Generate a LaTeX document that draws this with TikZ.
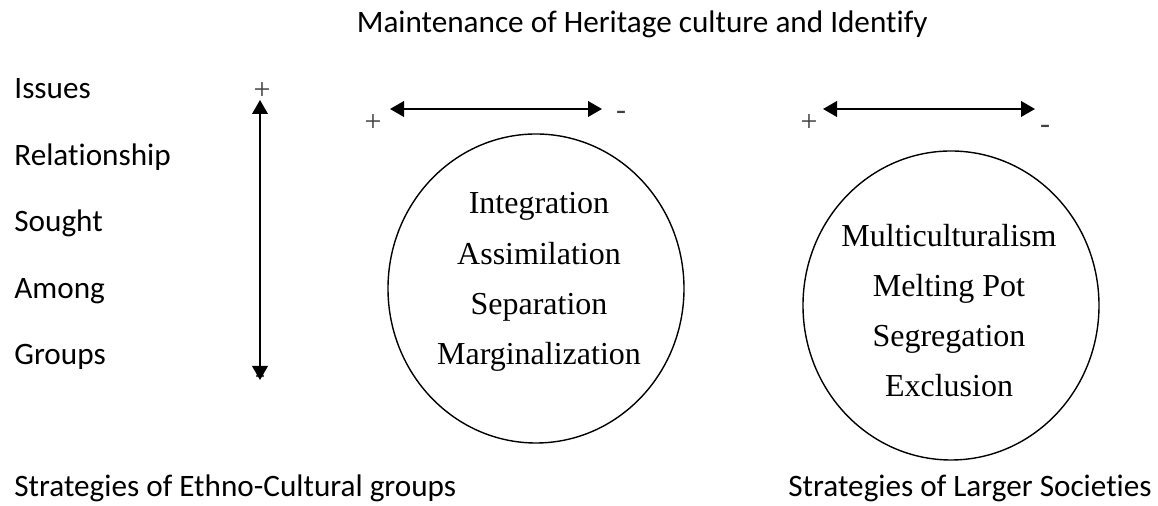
\documentclass[tikz,border=0pt]{standalone}
\usepackage{fontspec}
\setmainfont{Carlito}[Ligatures=CommonOff]
\newfontfamily\romfont{Liberation Serif}
\usetikzlibrary{arrows.meta}

\begin{document}
\begin{tikzpicture}[x=0.5pt, y=-0.5pt,
		lbl/.style={inner sep=0pt, font=\fontsize{15.6}{18}\selectfont},
		inner/.style={inner sep=0pt, anchor=base, font=\romfont\fontsize{16}{19}\selectfont},
		sgn/.style={inner sep=0pt, text=black!75, font=\romfont\fontsize{15}{18}\selectfont},
		dbl/.style={{Triangle[length=7pt, width=7.8pt]}-{Triangle[length=7pt, width=7.8pt]}, line width=1pt},
		ring/.style={line width=0.7pt}]
	\useasboundingbox (0, 0) rectangle (1158, 506);
	% labels
	\node[lbl, anchor=base east] (title) at (928, 33) {Maintenance of Heritage culture and Identify};
	\foreach \t [count=\i] in {Issues, Relationship, Sought, Among, Groups}
		\node[lbl, anchor=base west] (side\i) at (14, 99 + 66.5 * \i - 66.5) {\t};
	\node[lbl, anchor=base west] (ethno) at (14, 497) {Strategies of Ethno-Cultural groups};
	\node[lbl, anchor=base east] (larger) at (1152, 497) {Strategies of Larger Societies};
	% vertical arrow
	\node[sgn] (vplus) at (262, 91) {+};
	\node[sgn] (vminus) at (260, 379) {-};
	\coordinate (vtop) at (260, 100);
	\coordinate (vbot) at (260, 380);
	\draw[dbl] (vtop) -- (vbot);
	% horizontal arrows
	\coordinate (a1) at (390, 109);
	\coordinate (b1) at (602, 109);
	\coordinate (a2) at (823, 109);
	\coordinate (b2) at (1035, 109);
	\draw[dbl] (a1) -- (b1);
	\draw[dbl] (a2) -- (b2);
	\node[sgn] (plus1) at (373, 123) {+};
	\node[sgn] (minus1) at (621, 115) {-};
	\node[sgn] (plus2) at (809, 123) {+};
	\node[sgn] (minus2) at (1045, 129) {-};
	% circles
	\coordinate (c1) at (536, 288.5);
	\coordinate (c2) at (951, 305.5);
	\draw[ring] (c1) ellipse [x radius=148, y radius=154.5];
	\draw[ring] (c2) ellipse [x radius=148, y radius=154.5];
	\foreach \t [count=\i] in {Integration, Assimilation, Separation, Marginalization}
		\node[inner] (ethno\i) at (539, 214 + 50.3 * \i - 50.3) {\t};
	\foreach \t [count=\i] in {Multiculturalism, Melting Pot, Segregation, Exclusion}
		\node[inner] (larger\i) at (949, 247 + 50 * \i - 50) {\t};
\end{tikzpicture}
\end{document}
